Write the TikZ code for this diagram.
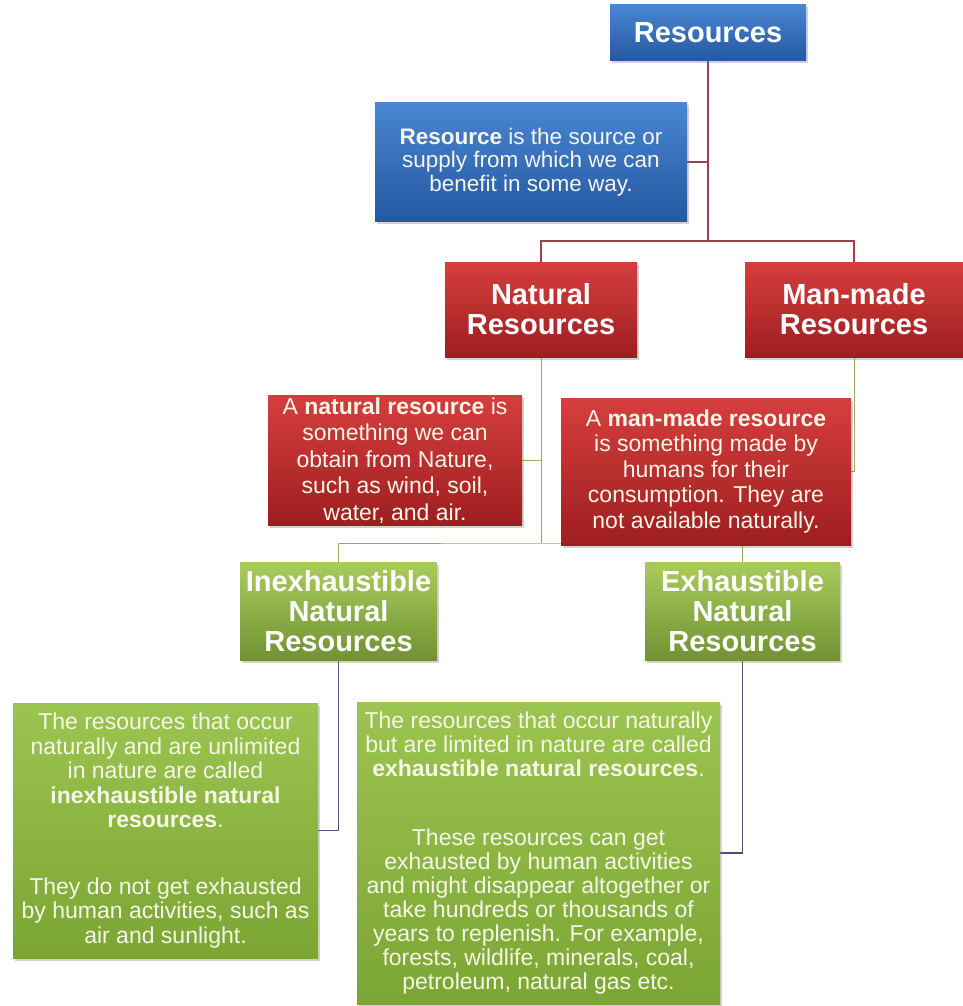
\documentclass[tikz,border=0pt]{standalone}
\usepackage{fontspec}
\setmainfont{Liberation Sans}
\usetikzlibrary{shadows}
\pgfdeclarelayer{back}
\pgfdeclarelayer{bg}
\pgfsetlayers{back,bg,main}
\definecolor{blueT}{RGB}{74,134,210}
\definecolor{blueB}{RGB}{36,88,162}
\definecolor{redT}{RGB}{214,62,62}
\definecolor{redB}{RGB}{158,30,32}
\definecolor{greenT}{RGB}{170,204,92}
\definecolor{greenB}{RGB}{112,146,52}
\definecolor{gdefT}{RGB}{155,196,80}
\definecolor{gdefB}{RGB}{124,166,52}
\definecolor{cream}{RGB}{246,246,232}
\definecolor{lineRed}{RGB}{164,62,78}
\definecolor{lineGreen}{RGB}{150,176,96}
\definecolor{linePurple}{RGB}{82,78,122}
\tikzset{
  box/.style={rectangle, inner sep=2pt, align=center, text=white,
    drop shadow={opacity=0.35, shadow xshift=2pt, shadow yshift=-2.5pt}},
  bluebox/.style={box, top color=blueT, bottom color=blueB},
  redbox/.style={box, top color=redT, bottom color=redB},
  greenbox/.style={box, top color=greenT, bottom color=greenB},
  gdefbox/.style={box, top color=gdefT, bottom color=gdefB},
  titletext/.style={font=\fontsize{29}{30}\selectfont\bfseries},
  bodytext/.style={font=\fontsize{23}{26}\selectfont, text=cream},
  conR/.style={draw=lineRed, line width=1.2pt},
  conG/.style={draw=lineGreen, line width=1pt},
  conP/.style={draw=linePurple, line width=1.1pt}
}
\begin{document}
\begin{tikzpicture}[x=1pt, y=-1pt]
\begin{pgfonlayer}{back}
\fill[white] (0,0) rectangle (963,1006);
\end{pgfonlayer}
\useasboundingbox (0,0) rectangle (963,1006);

\node[bluebox, titletext, minimum width=196pt, minimum height=56pt] (res) at (708,33) {Resources};
\node[bluebox, bodytext, font=\fontsize{22.5}{23.5}\selectfont, minimum width=312pt, minimum height=119pt] (resdef) at (531,162)
  {\textbf{Resource} is the source or\\supply from which we can\\benefit in some way.};

\node[redbox, titletext, minimum width=192pt, minimum height=95pt] (nat) at (541,309.5) {Natural\\Resources};
\node[redbox, titletext, minimum width=218pt, minimum height=95pt] (man) at (854,309.5) {Man-made\\Resources};

\node[redbox, bodytext, font=\fontsize{23}{26.5}\selectfont, minimum width=254pt, minimum height=125pt] (natdef) at (395,460.5)
  {A \textbf{natural resource} is\\something we can\\obtain from Nature,\\such as wind, soil,\\water, and air.};
\node[redbox, bodytext, font=\fontsize{23}{25.5}\selectfont, minimum width=290pt, minimum height=147pt] (mandef) at (706,471.5)
  {A \textbf{man-made resource}\\is something made by\\humans for their\\consumption. They are\\not available naturally.};

\node[greenbox, titletext, minimum width=197pt, minimum height=98pt] (inex) at (338.5,611) {Inexhaustible\\Natural\\Resources};
\node[greenbox, titletext, minimum width=195pt, minimum height=98pt] (exh) at (742.5,611) {Exhaustible\\Natural\\Resources};

\node[gdefbox, bodytext, font=\fontsize{23}{24.5}\selectfont, minimum width=305pt, minimum height=255pt] (inexdef) at (165.5,830.5)
  {The resources that occur\\naturally and are unlimited\\in nature are called\\\textbf{inexhaustible natural}\\\textbf{resources}.\\[42pt]They do not get exhausted\\by human activities, such as\\air and sunlight.};
\node[gdefbox, bodytext, font=\fontsize{23}{24}\selectfont, minimum width=363pt, minimum height=302pt] (exhdef) at (538.5,853)
  {The resources that occur naturally\\but are limited in nature are called\\\textbf{exhaustible natural resources}.\\[45pt]These resources can get\\exhausted by human activities\\and might disappear altogether or\\take hundreds or thousands of\\years to replenish. For example,\\forests, wildlife, minerals, coal,\\petroleum, natural gas etc.};

\coordinate (b1) at (708,241);
\coordinate (b2) at (541,543);

\begin{pgfonlayer}{bg}
\draw[conR] (res.south) |- (resdef.east);
\draw[conR] (res.south) -- (b1);
\draw[conR] (nat.north) |- (b1) -| (man.north);
\draw[conG] (nat.south) |- (natdef.east);
\draw[conG] (nat.south) -- (b2);
\draw[conG] (inex.north) |- (b2) -| (exh.north);
\draw[conG] (man.south) |- (mandef.east);
\draw[conP] (inex.south) |- (inexdef.east);
\draw[conP] (exh.south) |- (exhdef.east);
\end{pgfonlayer}
\end{tikzpicture}
\end{document}
